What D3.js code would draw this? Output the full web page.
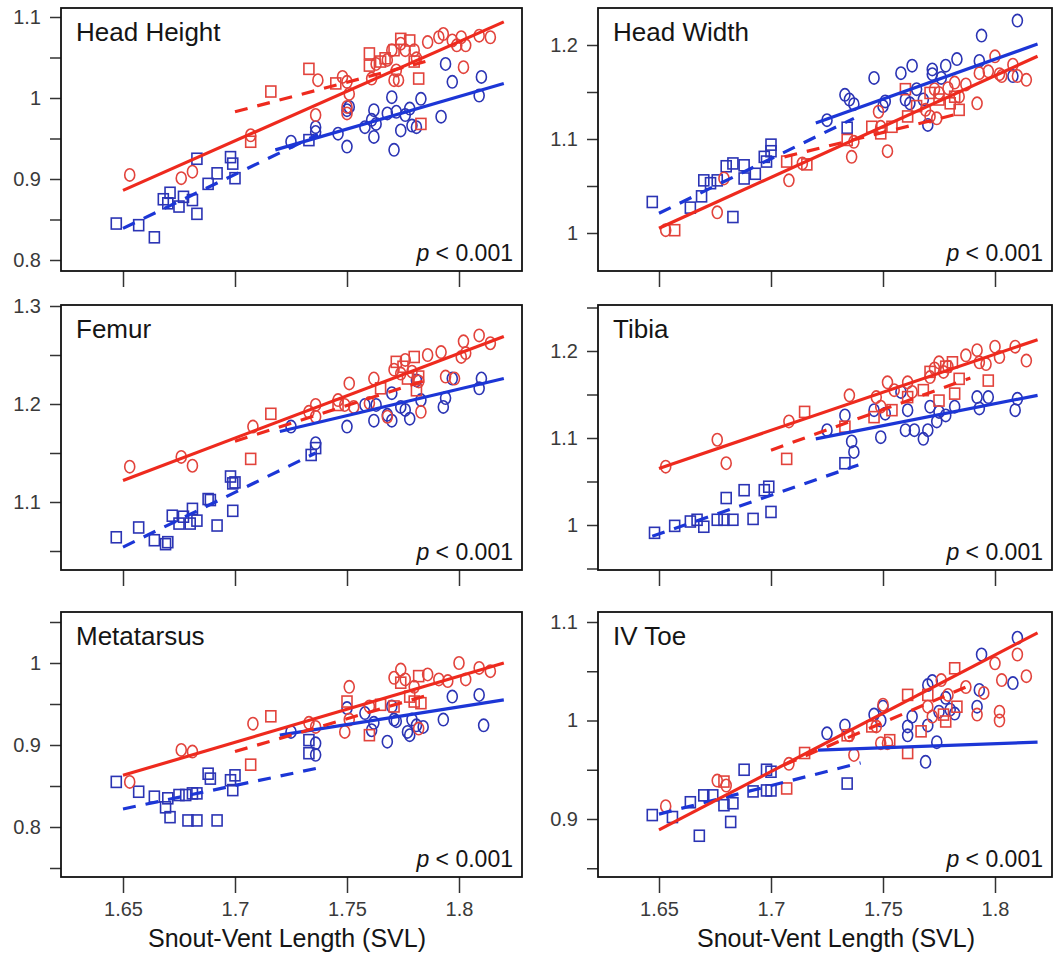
<!DOCTYPE html>
<html>
<head>
<meta charset="utf-8">
<script src="https://cdn.jsdelivr.net/npm/d3@7"></script>
<style>
  body { margin: 0; background: #fff; }
  text { font-family: "Liberation Sans", Arial, sans-serif; }
</style>
</head>
<body>
<script>
// x ticks shared by every panel
const svlTicks = [1.65, 1.7, 1.75, 1.8]
const panelNames = ['Head Height', 'Head Width', 'Femur', 'Tibia', 'Metatarsus', 'IV Toe']
const pLabel = '< 0.001'
const xTitle = 'Snout-Vent Length (SVL)'

// y ticks (majors get a label, the .05 ones do not)
const hhYTicks = [0.8, 0.85, 0.9, 0.95, 1, 1.05, 1.1]
const hwYTicks = [1, 1.05, 1.1, 1.15, 1.2]
const feYTicks = [1.05, 1.1, 1.15, 1.2, 1.25, 1.3]
const tiYTicks = [0.95, 1, 1.05, 1.1, 1.15, 1.2, 1.25]
const mtYTicks = [0.75, 0.8, 0.85, 0.9, 0.95, 1, 1.05]
const toYTicks = [0.85, 0.9, 0.95, 1, 1.05, 1.1]

// Head Height
const hhRedCircles = [[1.653,0.905],[1.676,0.901],[1.681,0.909],[1.707,0.954],[1.736,0.979],[1.737,1.022],[1.748,1.026],[1.750,1.020],[1.751,1.005],[1.750,0.989],[1.750,0.981],[1.761,1.024],[1.763,1.042],[1.768,1.047],[1.770,1.059],[1.771,1.022],[1.773,1.022],[1.772,1.034],[1.774,1.067],[1.776,1.059],[1.780,1.059],[1.781,1.049],[1.786,1.069],[1.791,1.075],[1.793,1.079],[1.797,1.071],[1.799,1.065],[1.801,1.075],[1.802,1.038],[1.803,1.065],[1.809,1.077],[1.814,1.075]]
const hhRedSquares = [[1.707,0.946],[1.716,1.008],[1.733,1.036],[1.745,1.018],[1.760,1.055],[1.760,1.040],[1.765,1.045],[1.767,1.049],[1.771,1.059],[1.774,1.073],[1.778,1.071],[1.780,1.045],[1.782,1.024],[1.783,0.968]]
const hhBlueSquares = [[1.647,0.845],[1.657,0.843],[1.664,0.828],[1.668,0.875],[1.671,0.883],[1.670,0.870],[1.675,0.866],[1.677,0.878],[1.681,0.874],[1.683,0.857],[1.683,0.925],[1.688,0.894],[1.692,0.907],[1.698,0.927],[1.699,0.919],[1.700,0.901],[1.733,0.948]]
const hhBlueCircles = [[1.725,0.946],[1.736,0.964],[1.736,0.958],[1.746,0.956],[1.750,0.940],[1.750,0.985],[1.751,0.989],[1.758,0.964],[1.761,0.973],[1.762,0.985],[1.762,0.952],[1.763,0.968],[1.768,0.981],[1.770,1.001],[1.771,0.936],[1.772,0.983],[1.774,0.960],[1.776,0.979],[1.778,0.987],[1.779,0.966],[1.781,0.964],[1.783,0.999],[1.792,0.977],[1.794,1.042],[1.797,1.020],[1.809,1.003],[1.810,1.026]]
// fit lines: red solid, red dashed, blue solid, blue dashed  [x1, y1, x2, y2]
const hhFits = [[1.65,0.886,1.82,1.094],[1.70,0.983,1.785,1.045],[1.718,0.936,1.82,1.018],[1.65,0.839,1.737,0.955]]

// Head Width
const hwRedCircles = [[1.653,1.003],[1.676,1.022],[1.679,1.058],[1.708,1.056],[1.714,1.074],[1.736,1.081],[1.737,1.097],[1.748,1.129],[1.749,1.113],[1.752,1.087],[1.769,1.131],[1.771,1.124],[1.774,1.122],[1.773,1.153],[1.775,1.149],[1.779,1.154],[1.782,1.160],[1.784,1.145],[1.787,1.158],[1.792,1.138],[1.793,1.170],[1.797,1.172],[1.800,1.188],[1.802,1.169],[1.803,1.167],[1.808,1.179],[1.810,1.167],[1.814,1.163]]
const hwRedSquares = [[1.657,1.003],[1.707,1.076],[1.716,1.073],[1.734,1.099],[1.745,1.113],[1.749,1.106],[1.754,1.113],[1.760,1.153],[1.761,1.124],[1.765,1.135],[1.771,1.149],[1.775,1.142],[1.780,1.138],[1.784,1.131],[1.782,1.145]]
const hwBlueSquares = [[1.647,1.033],[1.664,1.027],[1.669,1.039],[1.670,1.056],[1.673,1.053],[1.676,1.056],[1.680,1.071],[1.683,1.074],[1.683,1.017],[1.688,1.058],[1.688,1.072],[1.693,1.063],[1.697,1.081],[1.698,1.076],[1.700,1.087],[1.700,1.094],[1.734,1.112]]
const hwBlueCircles = [[1.725,1.120],[1.733,1.147],[1.735,1.142],[1.737,1.137],[1.746,1.165],[1.750,1.135],[1.751,1.140],[1.758,1.170],[1.763,1.178],[1.760,1.142],[1.762,1.138],[1.770,1.115],[1.768,1.142],[1.772,1.174],[1.772,1.169],[1.778,1.178],[1.783,1.185],[1.793,1.183],[1.794,1.210],[1.808,1.167],[1.810,1.226],[1.765,1.153],[1.776,1.165]]
const hwFits = [[1.65,1.005,1.819,1.188],[1.706,1.081,1.784,1.127],[1.72,1.117,1.819,1.201],[1.65,1.021,1.737,1.122]]

// Femur
const feRedCircles = [[1.653,1.136],[1.676,1.146],[1.681,1.137],[1.708,1.177],[1.733,1.192],[1.736,1.187],[1.736,1.199],[1.746,1.204],[1.749,1.199],[1.751,1.221],[1.753,1.197],[1.762,1.226],[1.760,1.201],[1.768,1.187],[1.771,1.235],[1.774,1.231],[1.776,1.245],[1.779,1.233],[1.782,1.223],[1.783,1.192],[1.786,1.250],[1.792,1.253],[1.794,1.228],[1.798,1.226],[1.801,1.248],[1.802,1.264],[1.803,1.252],[1.809,1.270],[1.814,1.262]]
const feRedSquares = [[1.707,1.144],[1.716,1.190],[1.746,1.199],[1.765,1.216],[1.772,1.243],[1.775,1.238],[1.780,1.248],[1.777,1.226],[1.782,1.228],[1.781,1.214]]
const feBlueSquares = [[1.647,1.064],[1.657,1.074],[1.664,1.061],[1.669,1.057],[1.670,1.059],[1.672,1.086],[1.675,1.078],[1.677,1.085],[1.680,1.078],[1.681,1.093],[1.683,1.081],[1.688,1.103],[1.689,1.102],[1.692,1.076],[1.698,1.126],[1.699,1.119],[1.700,1.120],[1.699,1.091],[1.734,1.148],[1.736,1.155]]
const feBlueCircles = [[1.725,1.177],[1.736,1.160],[1.750,1.177],[1.758,1.199],[1.762,1.183],[1.763,1.199],[1.768,1.189],[1.770,1.183],[1.770,1.211],[1.774,1.197],[1.776,1.194],[1.778,1.185],[1.781,1.224],[1.783,1.204],[1.793,1.197],[1.794,1.206],[1.797,1.226],[1.809,1.216],[1.810,1.226]]
const feFits = [[1.65,1.122,1.82,1.269],[1.70,1.162,1.785,1.224],[1.72,1.172,1.82,1.226],[1.65,1.054,1.736,1.150]]

// Tibia
const tiRedCircles = [[1.653,1.067],[1.676,1.098],[1.680,1.071],[1.708,1.119],[1.735,1.149],[1.747,1.147],[1.752,1.164],[1.749,1.136],[1.755,1.155],[1.761,1.164],[1.763,1.153],[1.771,1.170],[1.773,1.180],[1.775,1.187],[1.777,1.176],[1.779,1.182],[1.787,1.195],[1.792,1.201],[1.793,1.187],[1.796,1.185],[1.800,1.205],[1.802,1.193],[1.809,1.205],[1.814,1.189]]
const tiRedSquares = [[1.707,1.076],[1.715,1.130],[1.733,1.113],[1.746,1.124],[1.754,1.132],[1.761,1.147],[1.768,1.155],[1.771,1.176],[1.778,1.182],[1.781,1.187],[1.782,1.151],[1.784,1.168],[1.797,1.166],[1.775,1.143]]
const tiBlueSquares = [[1.648,0.991],[1.657,0.999],[1.664,1.004],[1.667,1.006],[1.670,0.998],[1.676,1.006],[1.679,1.006],[1.683,1.006],[1.680,1.031],[1.688,1.040],[1.692,1.007],[1.697,1.040],[1.699,1.044],[1.700,1.015],[1.733,1.071]]
const tiBlueCircles = [[1.725,1.109],[1.733,1.126],[1.736,1.096],[1.737,1.084],[1.746,1.132],[1.749,1.101],[1.751,1.128],[1.758,1.153],[1.760,1.109],[1.761,1.132],[1.764,1.109],[1.768,1.099],[1.770,1.109],[1.771,1.136],[1.774,1.119],[1.775,1.130],[1.778,1.126],[1.782,1.136],[1.792,1.147],[1.793,1.134],[1.797,1.147],[1.809,1.132],[1.810,1.145]]
const tiFits = [[1.65,1.065,1.819,1.213],[1.70,1.086,1.789,1.169],[1.72,1.099,1.819,1.149],[1.647,0.987,1.739,1.069]]

// Metatarsus
const mtRedCircles = [[1.653,0.855],[1.676,0.894],[1.681,0.892],[1.708,0.926],[1.733,0.927],[1.736,0.922],[1.749,0.916],[1.751,0.971],[1.751,0.931],[1.760,0.947],[1.771,0.982],[1.774,0.992],[1.776,0.980],[1.780,0.971],[1.782,0.920],[1.786,0.986],[1.791,0.980],[1.795,0.978],[1.800,1.000],[1.803,0.980],[1.809,0.994],[1.814,0.990]]
const mtRedSquares = [[1.707,0.876],[1.716,0.935],[1.750,0.953],[1.760,0.912],[1.765,0.949],[1.771,0.947],[1.774,0.976],[1.780,0.953],[1.782,0.984],[1.783,0.951],[1.778,0.959]]
const mtBlueSquares = [[1.647,0.855],[1.657,0.843],[1.664,0.837],[1.669,0.824],[1.671,0.812],[1.670,0.835],[1.675,0.839],[1.678,0.839],[1.679,0.808],[1.681,0.841],[1.683,0.808],[1.683,0.841],[1.688,0.865],[1.689,0.859],[1.692,0.808],[1.698,0.857],[1.699,0.845],[1.700,0.863],[1.733,0.906],[1.733,0.890]]
const mtBlueCircles = [[1.725,0.916],[1.736,0.902],[1.736,0.888],[1.750,0.945],[1.758,0.939],[1.761,0.918],[1.762,0.927],[1.768,0.904],[1.770,0.947],[1.771,0.931],[1.772,0.929],[1.777,0.916],[1.778,0.912],[1.779,0.931],[1.781,0.924],[1.784,0.922],[1.793,0.931],[1.797,0.959],[1.809,0.961],[1.811,0.924]]
const mtFits = [[1.65,0.863,1.82,1.000],[1.70,0.892,1.785,0.960],[1.72,0.912,1.82,0.955],[1.65,0.822,1.739,0.873]]

// IV Toe
const toRedCircles = [[1.653,0.913],[1.676,0.939],[1.680,0.934],[1.708,0.956],[1.735,0.985],[1.737,0.965],[1.747,0.994],[1.749,0.977],[1.750,1.016],[1.752,0.977],[1.770,1.014],[1.772,1.004],[1.776,1.041],[1.779,1.026],[1.787,1.034],[1.792,1.006],[1.795,1.028],[1.800,1.058],[1.802,1.009],[1.802,1.000],[1.803,1.041],[1.810,1.067],[1.814,1.045]]
const toRedSquares = [[1.679,0.938],[1.707,0.931],[1.715,0.967],[1.734,0.985],[1.745,0.994],[1.753,0.980],[1.761,1.026],[1.761,0.967],[1.767,0.989],[1.777,1.006],[1.778,0.999],[1.782,1.053],[1.783,1.014],[1.770,1.026]]
const toBlueSquares = [[1.647,0.904],[1.656,0.902],[1.664,0.917],[1.668,0.883],[1.670,0.924],[1.674,0.924],[1.679,0.914],[1.682,0.897],[1.683,0.916],[1.688,0.950],[1.692,0.928],[1.698,0.950],[1.700,0.948],[1.698,0.929],[1.700,0.929],[1.734,0.936]]
const toBlueCircles = [[1.725,0.987],[1.733,0.995],[1.746,1.006],[1.750,1.014],[1.749,1.000],[1.761,0.994],[1.761,0.985],[1.763,1.004],[1.769,0.958],[1.770,0.995],[1.770,1.036],[1.772,1.040],[1.774,0.978],[1.775,1.009],[1.778,1.023],[1.780,1.011],[1.782,1.007],[1.792,1.014],[1.793,1.031],[1.794,1.067],[1.808,1.038],[1.810,1.084]]
const toFits = [[1.65,0.889,1.819,1.089],[1.706,0.955,1.788,1.035],[1.721,0.970,1.819,0.978],[1.65,0.905,1.74,0.957]]

const panels = [
  { yTicks: hhYTicks, rc: hhRedCircles, rs: hhRedSquares, bc: hhBlueCircles, bs: hhBlueSquares, fits: hhFits },
  { yTicks: hwYTicks, rc: hwRedCircles, rs: hwRedSquares, bc: hwBlueCircles, bs: hwBlueSquares, fits: hwFits },
  { yTicks: feYTicks, rc: feRedCircles, rs: feRedSquares, bc: feBlueCircles, bs: feBlueSquares, fits: feFits },
  { yTicks: tiYTicks, rc: tiRedCircles, rs: tiRedSquares, bc: tiBlueCircles, bs: tiBlueSquares, fits: tiFits },
  { yTicks: mtYTicks, rc: mtRedCircles, rs: mtRedSquares, bc: mtBlueCircles, bs: mtBlueSquares, fits: mtFits },
  { yTicks: toYTicks, rc: toRedCircles, rs: toRedSquares, bc: toBlueCircles, bs: toBlueSquares, fits: toFits }
]

// layout (pixels)
const cols = [
  { x0: 61, x1: 522, t0: 123, t1: 459 },
  { x0: 598, x1: 1052, t0: 659, t1: 995 }
]
const rows = [
  { y0: 8, y1: 271 },
  { y0: 305, y1: 570 },
  { y0: 612, y1: 877 }
]
// two reference y values and their pixel rows, per panel
const yAnchors = [
  [1.1, 17, 0.8, 260],
  [1.2, 45, 1.0, 233],
  [1.3, 306, 1.1, 502],
  [1.2, 351, 1.0, 525],
  [1.0, 663, 0.8, 827],
  [1.1, 622, 0.9, 819]
]

const RED_LINE = '#ee2a1e'
const BLUE_LINE = '#1c36d6'
const RED_PT = '#e2433c'
const BLUE_PT = '#2b34b4'

const svg = d3.select('body').append('svg')
  .attr('width', 1055)
  .attr('height', 957)

panels.forEach((p, i) => {
  const col = cols[i % 2]
  const row = rows[Math.floor(i / 2)]
  const a = yAnchors[i]

  const xScale = d3.scaleLinear().domain([1.65, 1.8]).range([col.t0, col.t1])
  const yScale = d3.scaleLinear().domain([a[0], a[2]]).range([a[1], a[3]])

  const g = svg.append('g')

  // y axis
  const yAxis = d3.axisLeft(yScale)
    .tickValues(p.yTicks)
    .tickSize(11)
    .tickPadding(9)
    .tickFormat(v => Math.abs(v * 10 - Math.round(v * 10)) < 1e-6 ? String(+v.toFixed(1)) : '')
  const ya = g.append('g')
    .attr('transform', `translate(${col.x0},0)`)
    .call(yAxis)
  ya.select('.domain').remove()

  // x axis
  const bottom = i >= 4
  const xAxis = d3.axisBottom(xScale)
    .tickValues(svlTicks)
    .tickSize(16)
    .tickPadding(9)
    .tickFormat(v => bottom ? String(v) : '')
  const xa = g.append('g')
    .attr('transform', `translate(0,${row.y1})`)
    .call(xAxis)
  xa.select('.domain').remove()

  g.selectAll('.tick line').attr('stroke', '#333').attr('stroke-width', 1.5)
  g.selectAll('.tick text')
    .attr('font-family', '"Liberation Sans", Arial, sans-serif')
    .attr('font-size', 20)
    .attr('fill', '#3a3a3a')

  // points
  g.selectAll('.bs').data(p.bs).enter().append('rect')
    .attr('x', d => xScale(d[0]) - 5).attr('y', d => yScale(d[1]) - 5.5)
    .attr('width', 10).attr('height', 11)
    .attr('fill', 'none').attr('stroke', BLUE_PT).attr('stroke-width', 1.6)
  g.selectAll('.bc').data(p.bc).enter().append('ellipse')
    .attr('cx', d => xScale(d[0])).attr('cy', d => yScale(d[1]))
    .attr('rx', 5).attr('ry', 6.2)
    .attr('fill', 'none').attr('stroke', BLUE_PT).attr('stroke-width', 1.6)
  g.selectAll('.rs').data(p.rs).enter().append('rect')
    .attr('x', d => xScale(d[0]) - 5).attr('y', d => yScale(d[1]) - 5.5)
    .attr('width', 10).attr('height', 11)
    .attr('fill', 'none').attr('stroke', RED_PT).attr('stroke-width', 1.6)
  g.selectAll('.rc').data(p.rc).enter().append('ellipse')
    .attr('cx', d => xScale(d[0])).attr('cy', d => yScale(d[1]))
    .attr('rx', 5).attr('ry', 6.2)
    .attr('fill', 'none').attr('stroke', RED_PT).attr('stroke-width', 1.6)

  // fit lines, blue first so red sits on top
  const lineStyle = [
    { c: RED_LINE, dash: null },
    { c: RED_LINE, dash: '13,10' },
    { c: BLUE_LINE, dash: null },
    { c: BLUE_LINE, dash: '13,10' }
  ]
  ;[3, 2, 1, 0].forEach(k => {
    const f = p.fits[k]
    g.append('line')
      .attr('x1', xScale(f[0])).attr('y1', yScale(f[1]))
      .attr('x2', xScale(f[2])).attr('y2', yScale(f[3]))
      .attr('stroke', lineStyle[k].c)
      .attr('stroke-width', 3.2)
      .attr('stroke-dasharray', lineStyle[k].dash)
  })

  // frame
  g.append('rect')
    .attr('x', col.x0).attr('y', row.y0)
    .attr('width', col.x1 - col.x0).attr('height', row.y1 - row.y0)
    .attr('fill', 'none').attr('stroke', '#111').attr('stroke-width', 1.8)

  g.append('text')
    .attr('x', col.x0 + 15).attr('y', row.y0 + 33)
    .attr('font-size', 26).attr('fill', '#151515')
    .text(panelNames[i])

  const pt = g.append('text')
    .attr('x', col.x1 - 9).attr('y', row.y1 - 10)
    .attr('text-anchor', 'end')
    .attr('font-size', 23).attr('fill', '#151515')
  pt.append('tspan').attr('font-style', 'italic').text('p')
  pt.append('tspan').text(' ' + pLabel)

  if (bottom) {
    svg.append('text')
      .attr('x', i === 4 ? 287 : 836).attr('y', 947)
      .attr('text-anchor', 'middle')
      .attr('font-size', 25).attr('fill', '#151515')
      .text(xTitle)
  }
})
</script>
</body>
</html>
